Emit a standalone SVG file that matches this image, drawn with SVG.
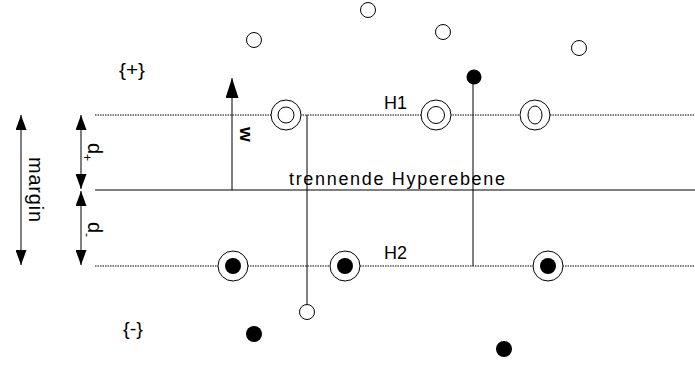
<svg xmlns="http://www.w3.org/2000/svg" width="695" height="365" viewBox="0 0 695 365">
<style>
text{font-family:"Liberation Sans",Arial,sans-serif;fill:#000}
.ln{stroke:#000;stroke-width:1;fill:none}
.dot{stroke:#000;stroke-width:1;stroke-dasharray:1.5 1;fill:none}
.o{fill:#fff;stroke:#000;stroke-width:1}
.f{fill:#000;stroke:none}
</style>
<defs>
<marker id="ah" viewBox="0 0 20 13" refX="20" refY="6.5" markerWidth="20" markerHeight="13" markerUnits="userSpaceOnUse" orient="auto">
<path d="M0,0 L20,6.5 L0,13 Z" fill="#000"/>
</marker>
<marker id="ahs" viewBox="0 0 15 11" refX="15" refY="5.5" markerWidth="15" markerHeight="11" markerUnits="userSpaceOnUse" orient="auto-start-reverse">
<path d="M0,0 L15,5.5 L0,11 Z" fill="#000"/>
</marker>
</defs>
<g id="connectors">
<line class="dot" x1="95" y1="115" x2="695" y2="115"/>
<line x1="95" y1="190" x2="695" y2="190" stroke="#555" stroke-width="1.5"/>
<line class="dot" x1="95" y1="266" x2="695" y2="266"/>
<line class="ln" x1="307" y1="115" x2="307" y2="304"/>
<line class="ln" x1="473" y1="77" x2="473" y2="266"/>
<line class="ln" x1="232" y1="190" x2="232" y2="78" marker-end="url(#ah)"/>
<line class="ln" x1="21" y1="115" x2="21" y2="265" marker-start="url(#ahs)" marker-end="url(#ahs)"/>
<line class="ln" x1="81" y1="115" x2="81" y2="189" marker-start="url(#ahs)" marker-end="url(#ahs)"/>
<line class="ln" x1="81" y1="191" x2="81" y2="265" marker-start="url(#ahs)" marker-end="url(#ahs)"/>
</g>
<g id="top-points">
<circle class="o" cx="368" cy="10" r="7.5"/>
<circle class="o" cx="254" cy="40" r="7.5"/>
<circle class="o" cx="443" cy="32" r="7.5"/>
<circle class="o" cx="579" cy="48" r="7.5"/>
<circle class="f" cx="474" cy="77" r="7.5"/>
</g>
<g id="h1-points">
<circle class="o" cx="286" cy="115" r="15"/><circle class="o" cx="286" cy="115" r="8"/>
<circle class="o" cx="436" cy="115" r="15"/><circle class="o" cx="436" cy="115" r="8.5"/>
<circle class="o" cx="535" cy="115" r="15"/><ellipse class="o" cx="535" cy="115" rx="7" ry="9"/>
</g>
<g id="h2-points">
<circle class="o" cx="233" cy="266" r="15"/><circle class="f" cx="233" cy="266" r="8"/>
<circle class="o" cx="345" cy="266" r="15"/><circle class="f" cx="345" cy="266" r="8"/>
<circle class="o" cx="548" cy="266" r="15"/><circle class="f" cx="548" cy="266" r="8"/>
</g>
<g id="bottom-points">
<circle class="o" cx="307" cy="312" r="7.5"/>
<circle class="f" cx="254" cy="334" r="8"/>
<circle class="f" cx="504" cy="349" r="8"/>
</g>
<g id="labels">
<text x="119" y="76" font-size="18" textLength="26" lengthAdjust="spacingAndGlyphs">{+}</text>
<text x="123" y="335" font-size="18" textLength="20" lengthAdjust="spacingAndGlyphs">{-}</text>
<text x="384" y="109" font-size="18">H1</text>
<text x="384" y="259" font-size="18">H2</text>
<text x="289" y="185" font-size="18" textLength="216" lengthAdjust="spacing">trennende Hyperebene</text>
<text transform="translate(29,157) rotate(90)" font-size="20" textLength="65" lengthAdjust="spacing">margin</text>
<text transform="translate(240,127) rotate(90)" font-size="19" font-weight="bold">w</text>
<text transform="translate(88,143) rotate(90)" font-size="20">d</text>
<text transform="translate(83,154) rotate(90)" font-size="12">+</text>
<text transform="translate(88,222) rotate(90)" font-size="20">d</text>
<text transform="translate(83,233) rotate(90)" font-size="12">-</text>
</g>
</svg>
